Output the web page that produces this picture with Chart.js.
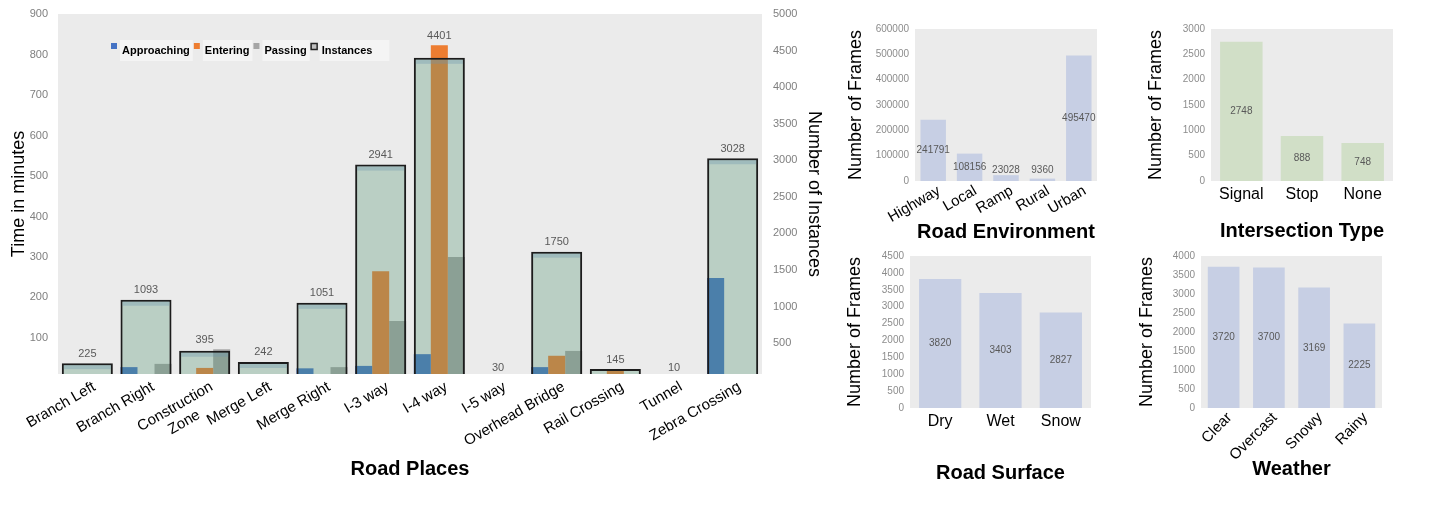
<!DOCTYPE html>
<html>
<head>
<meta charset="utf-8">
<script src="https://cdn.jsdelivr.net/npm/chart.js@4.4.0/dist/chart.umd.min.js"></script>
<style>
  body { margin: 0; background: #fff; width: 1443px; height: 511px; overflow: hidden; position: relative; }
  canvas { position: absolute; }
</style>
</head>
<body>
<canvas id="places" width="840" height="511" style="left:0;top:0"></canvas>
<canvas id="env" width="300" height="250" style="left:840px;top:0"></canvas>
<canvas id="inter" width="303" height="250" style="left:1140px;top:0"></canvas>
<canvas id="surface" width="300" height="255" style="left:840px;top:245px"></canvas>
<canvas id="weather" width="313" height="255" style="left:1130px;top:245px"></canvas>
<script>
// road places (minutes on left axis, instance counts on right axis)
const NBSP = '\u00a0';
const placeLabels = ['Branch Left', 'Branch Right', ['Construction', 'Zone' + NBSP.repeat(6)], 'Merge Left', 'Merge Right',
  'I-3 way', 'I-4 way', 'I-5 way', 'Overhead Bridge', 'Rail Crossing', 'Tunnel', 'Zebra Crossing'];
const approaching = [0, 28, 0, 0, 25, 31, 60, 0, 28, 0, 0, 248];
const entering = [0, 0, 26, 0, 0, 265, 823, 0, 56, 20, 0, 0];
const passing = [0, 36, 72, 0, 28, 142, 300, 0, 68, 0, 0, 0];
const instances = [225, 1093, 395, 242, 1051, 2941, 4401, 30, 1750, 145, 10, 3028];
const minuteTicks = [100, 200, 300, 400, 500, 600, 700, 800, 900];
const instanceTicks = [500, 1000, 1500, 2000, 2500, 3000, 3500, 4000, 4500, 5000];

// small panels
const envLabels = ['Highway', 'Local', 'Ramp', 'Rural', 'Urban'];
const envFrames = [241791, 108156, 23028, 9360, 495470];
const interLabels = ['Signal', 'Stop', 'None'];
const interFrames = [2748, 888, 748];
const surfaceLabels = ['Dry', 'Wet', 'Snow'];
const surfaceFrames = [3820, 3403, 2827];
const weatherLabels = ['Clear', 'Overcast', 'Snowy', 'Rainy'];
const weatherFrames = [3720, 3700, 3169, 2225];

const SANS = '"Liberation Sans", Arial, sans-serif';
const PLOT_BG = '#ebebeb';

const plotBg = {
  id: 'plotBg',
  beforeDraw(chart) {
    const {ctx, chartArea: a} = chart;
    ctx.save();
    ctx.fillStyle = PLOT_BG;
    ctx.fillRect(a.left, a.top, a.right - a.left, a.bottom - a.top);
    ctx.restore();
  }
};

// counts above each group + the darker strip under the instance bar top edge
const instanceMarks = {
  id: 'instanceMarks',
  afterDatasetsDraw(chart) {
    const {ctx, chartArea: a} = chart;
    const meta = chart.getDatasetMeta(0);
    ctx.save();
    ctx.beginPath();
    ctx.rect(a.left, a.top, a.right - a.left, a.bottom - a.top);
    ctx.clip();
    meta.data.forEach(el => {
      if (el.y < a.bottom - 8) {
        ctx.fillStyle = 'rgba(110,150,175,0.35)';
        ctx.fillRect(el.x - el.width / 2 + 2, el.y + 2, el.width - 4, 4);
      }
    });
    ctx.restore();
    ctx.save();
    ctx.font = '11px ' + SANS;
    ctx.fillStyle = '#595959';
    ctx.textAlign = 'center';
    ctx.textBaseline = 'bottom';
    meta.data.forEach((el, i) => {
      let top = Math.min(el.y, a.bottom + 3);
      for (let d = 1; d < chart.data.datasets.length; d++) {
        const bar = chart.getDatasetMeta(d).data[i];
        if (chart.data.datasets[d].data[i] > 0) top = Math.min(top, bar.y);
      }
      ctx.fillText(instances[i], el.x, top - 4);
    });
    ctx.restore();
  }
};

const placesLegend = {
  id: 'placesLegend',
  afterDraw(chart) {
    const {ctx, chartArea: a} = chart;
    const items = [
      {text: 'Approaching', fill: '#4472c4'},
      {text: 'Entering', fill: '#ed7d31'},
      {text: 'Passing', fill: '#a5a5a5'},
      {text: 'Instances', fill: '#bfbfbf', stroke: '#222'}
    ];
    let x = a.left + 53;
    const top = a.top + 26;
    ctx.save();
    ctx.font = 'bold 11px ' + SANS;
    ctx.textBaseline = 'middle';
    items.forEach((it, i) => {
      const w = ctx.measureText(it.text).width;
      const extra = i === items.length - 1 ? 16 : 2;
      ctx.fillStyle = '#f4f4f4';
      ctx.fillRect(x + 9, top, w + 3 + extra, 21);
      ctx.fillStyle = it.fill;
      ctx.fillRect(x, top + 3, 6, 6);
      if (it.stroke) {
        ctx.strokeStyle = it.stroke;
        ctx.lineWidth = 1.5;
        ctx.strokeRect(x + 0.5, top + 3.5, 6, 6);
      }
      ctx.fillStyle = '#000';
      ctx.fillText(it.text, x + 11, top + 11);
      x += 11 + w + 4;
    });
    ctx.restore();
  }
};

function fixWidth(w) {
  return scale => { scale.width = w; scale.paddingTop = 0; scale.paddingBottom = 0; };
}
function fixHeight(h) { return scale => { scale.height = h; }; }
function useTicks(values) { return scale => { scale.ticks = values.map(value => ({value})); }; }
const plain = v => String(v);

new Chart(document.getElementById('places'), {
  type: 'bar',
  data: {
    labels: placeLabels,
    datasets: [{
      label: 'Instances',
      data: instances,
      yAxisID: 'y2',
      grouped: false,
      categoryPercentage: 0.87,
      barPercentage: 1,
      backgroundColor: 'rgba(91,153,120,0.34)',
      borderColor: '#1c1c1c',
      borderWidth: 2,
      order: 0
    }, {
      label: 'Approaching',
      data: approaching,
      yAxisID: 'y',
      categoryPercentage: 0.87,
      barPercentage: 1,
      backgroundColor: '#4472c4',
      order: 1
    }, {
      label: 'Entering',
      data: entering,
      yAxisID: 'y',
      categoryPercentage: 0.87,
      barPercentage: 1,
      backgroundColor: '#ed7d31',
      order: 1
    }, {
      label: 'Passing',
      data: passing,
      yAxisID: 'y',
      categoryPercentage: 0.87,
      barPercentage: 1,
      backgroundColor: '#a5a5a5',
      order: 1
    }]
  },
  options: {
    responsive: false,
    animation: false,
    layout: {padding: {left: 4, right: 11, top: 14, bottom: 26}},
    plugins: {legend: {display: false}, tooltip: {enabled: false}},
    scales: {
      x: {
        grid: {display: false, drawTicks: false},
        border: {display: false},
        afterFit: fixHeight(111),
        ticks: {
          autoSkip: false, minRotation: 30, maxRotation: 30, padding: 4, labelOffset: 7,
          color: '#000', font: {family: SANS, size: 15}
        },
        title: {display: true, text: 'Road Places', color: '#000', font: {family: SANS, size: 20, weight: 'bold'}}
      },
      y: {
        position: 'left',
        min: 11, max: 900,
        grid: {display: false, drawTicks: false},
        border: {display: false},
        afterBuildTicks: useTicks(minuteTicks),
        afterFit: fixWidth(54),
        ticks: {padding: 10, color: '#7f7f7f', font: {family: SANS, size: 11}, callback: plain},
        title: {display: true, text: 'Time in minutes', color: '#000', font: {family: SANS, size: 18}}
      },
      y2: {
        position: 'right',
        min: 77, max: 5000,
        grid: {display: false, drawTicks: false},
        border: {display: false},
        afterBuildTicks: useTicks(instanceTicks),
        afterFit: fixWidth(67),
        ticks: {padding: 11, color: '#7f7f7f', font: {family: SANS, size: 11}, callback: plain},
        title: {display: true, text: 'Number of Instances', color: '#000', font: {family: SANS, size: 18}}
      }
    }
  },
  plugins: [plotBg, instanceMarks, placesLegend]
});

// value printed at the middle of each bar, never lower than just above the baseline
const midLabels = {
  id: 'midLabels',
  afterDatasetsDraw(chart) {
    const {ctx} = chart;
    const meta = chart.getDatasetMeta(0);
    const values = chart.data.datasets[0].data;
    ctx.save();
    ctx.font = '10px ' + SANS;
    ctx.fillStyle = '#595959';
    ctx.textAlign = 'center';
    ctx.textBaseline = 'middle';
    meta.data.forEach((el, i) => {
      const y = Math.min((el.y + el.base) / 2, el.base - 11);
      ctx.fillText(values[i], el.x, y);
    });
    ctx.restore();
  }
};

function panel(id, cfg) {
  new Chart(document.getElementById(id), {
    type: 'bar',
    data: {
      labels: cfg.labels,
      datasets: [{
        data: cfg.values,
        backgroundColor: cfg.color,
        categoryPercentage: 0.7,
        barPercentage: 1
      }]
    },
    options: {
      responsive: false,
      animation: false,
      layout: {padding: cfg.padding},
      plugins: {legend: {display: false}, tooltip: {enabled: false}},
      scales: {
        x: {
          grid: {display: false, drawTicks: false},
          border: {display: false},
          afterFit: fixHeight(cfg.xHeight),
          ticks: {
            autoSkip: false, minRotation: cfg.rotation, maxRotation: cfg.rotation,
            padding: cfg.rotation ? 1 : 4, labelOffset: cfg.rotation ? 6 : 0,
            color: '#000', font: {family: SANS, size: cfg.rotation ? 15 : 16}
          },
          title: {display: true, text: cfg.title, color: '#000', font: {family: SANS, size: 20, weight: 'bold'}}
        },
        y: {
          min: 0, max: cfg.max,
          grid: {display: false, drawTicks: false},
          border: {display: false},
          afterFit: fixWidth(cfg.yWidth),
          ticks: {
            stepSize: cfg.step, padding: 6, color: '#8c8c8c', font: {family: SANS, size: 10},
            callback: plain
          },
          title: {display: true, text: 'Number of Frames', color: '#000', font: {family: SANS, size: 18}}
        }
      }
    },
    plugins: [plotBg, midLabels]
  });
}

panel('env', {
  labels: envLabels, values: envFrames, color: '#c7cfe4', title: 'Road Environment',
  max: 600000, step: 100000, rotation: 30,
  padding: {left: 1, right: 43, top: 29, bottom: 2}, yWidth: 74, xHeight: 67
});
panel('inter', {
  labels: interLabels, values: interFrames, color: '#d1dfc7', title: 'Intersection Type',
  max: 3000, step: 500, rotation: 0,
  padding: {left: 1, right: 50, top: 29, bottom: 3}, yWidth: 70, xHeight: 66
});
panel('surface', {
  labels: surfaceLabels, values: surfaceFrames, color: '#c7cfe4', title: 'Road Surface',
  max: 4500, step: 500, rotation: 0,
  padding: {left: 0, right: 49, top: 11, bottom: 11}, yWidth: 70, xHeight: 81
});
panel('weather', {
  labels: weatherLabels, values: weatherFrames, color: '#c7cfe4', title: 'Weather',
  max: 4000, step: 500, rotation: 45,
  padding: {left: 2, right: 61, top: 11, bottom: 15}, yWidth: 69, xHeight: 77
});
</script>
</body>
</html>
